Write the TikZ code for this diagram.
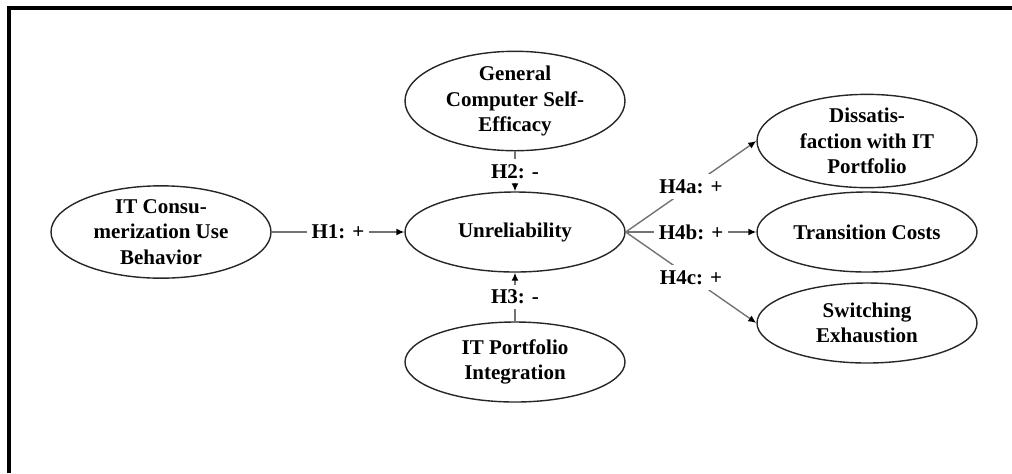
\documentclass[tikz,border=0pt]{standalone}
\usepackage{fontspec}
\setmainfont{Liberation Serif}
\usetikzlibrary{arrows.meta,shapes.geometric}

\begin{document}
\begin{tikzpicture}[x=0.5pt,y=-0.5pt,
    construct/.style={draw=black!85,line width=0.7pt,ellipse,minimum width=110pt,minimum height=40pt,inner sep=0pt,align=center,font=\fontsize{10.5}{12.8}\selectfont\bfseries},
    hyp/.style={fill=white,inner sep=2.5pt,font=\fontsize{10.5}{12.8}\selectfont\bfseries},
    link/.style={draw=black!55,line width=0.7pt,-{Latex[length=4pt,width=3.5pt,black]}}]
    \useasboundingbox (0,0) rectangle (1012,473);
    \draw[line width=2pt] (9,473) -- (9,7.5) -- (1012,7.5);
    \node[construct] (cons) at (161,232) {IT Consu-\\merization Use\\Behavior};
    \node[construct] (unrel) at (515,232) {Unreliability};
    \node[construct] (gcse) at (515,101) {General\\Computer Self-\\Efficacy};
    \node[construct] (itpi) at (515,362) {IT Portfolio\\Integration};
    \node[construct] (dissat) at (867,141) {Dissatis-\\faction with IT\\Portfolio};
    \node[construct] (trans) at (867,232) {Transition Costs};
    \node[construct] (switchex) at (867,323) {Switching\\Exhaustion};
    \draw[link] (cons) -- node[hyp]{H1: +} (unrel);
    \draw[link] (gcse) -- node[hyp]{H2: -} (unrel);
    \draw[link] (itpi) -- node[hyp]{H3: -} (unrel);
    \draw[link] (unrel.east) -- node[hyp]{H4a: +} (dissat.west);
    \draw[link] (unrel.east) -- node[hyp]{H4b: +} (trans.west);
    \draw[link] (unrel.east) -- node[hyp]{H4c: +} (switchex.west);
\end{tikzpicture}
\end{document}
